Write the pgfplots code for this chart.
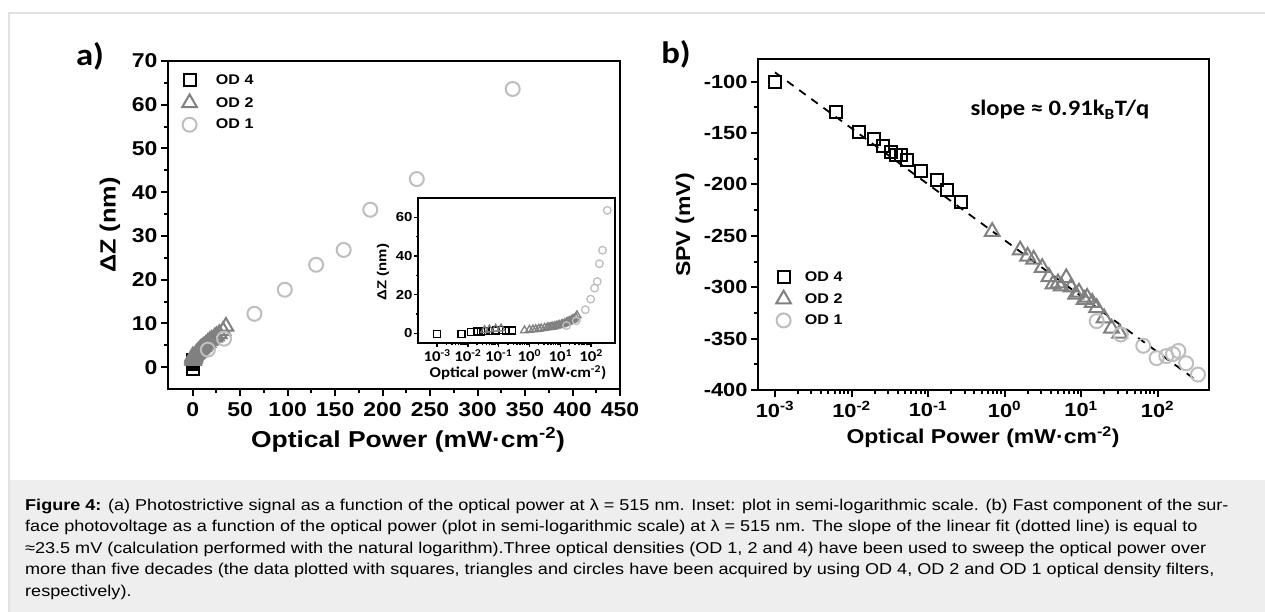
\documentclass[border=0pt]{standalone}
\usepackage{pgfplots}
\pgfplotsset{compat=1.18}
\usepackage{pgfplotstable}
\usepackage{fontspec}
\setmainfont{Liberation Sans}[FakeStretch=1.15]
\newfontfamily\carlito{Carlito}[FakeStretch=1.12]
\definecolor{odtwo}{HTML}{808080}
\definecolor{odone}{HTML}{BEBEBE}
\definecolor{capbg}{HTML}{EEEEEE}
\definecolor{framec}{HTML}{E2E2E2}

% Panel a data
\pgfplotstableread{
x y
0.001 -0.5
0.0062 -0.4
0.0127 0.8
0.0197 1.0
0.026 1.0
0.0325 1.2
0.0376 1.2
0.045 1.3
0.053 1.2
0.08 1.4
0.13 1.6
0.176 1.5
0.268 1.4
}\aSq
\pgfplotstableread{
x y
0.035 1.6
0.05 2.0
0.08 2.3
0.12 2.5
0.69 1.5
1.0 1.8
1.3 2.0
1.6 2.1
2.0 2.3
2.4 2.5
3.1 2.8
3.8 3.0
4.3 3.1
5.0 3.3
5.5 3.4
6.4 3.6
7.4 3.9
8.5 4.1
9.4 4.3
11 4.6
12 4.8
14 5.2
16 5.6
18 6.0
20 6.3
23 6.8
25 7.1
28 7.6
32 8.3
35 9.3
}\aTri
\pgfplotstableread{
x y
16 4.0
33 6.5
65 12.2
97 17.7
130 23.4
159 26.8
187 36.0
236 43.0
337 63.6
}\aCir
% Panel b data
\pgfplotstableread{
x y
0.001 -100.7
0.0062 -129.5
0.0127 -149.3
0.0197 -156.3
0.026 -162.8
0.0325 -168.6
0.0376 -171
0.045 -171
0.053 -175.9
0.08 -187.3
0.13 -195.5
0.176 -205
0.268 -217
}\bSq
\pgfplotstableread{
x y
0.69 -246
1.6 -264
2.0 -270
2.4 -273
3.1 -281
3.8 -290
4.3 -297
5.0 -296
5.5 -299
6.4 -291
7.4 -300
8.5 -307
9.4 -305
11 -312
12 -310
14 -315
16 -320
20 -330
25 -340
32 -345
}\bTri
\pgfplotstableread{
x y
16 -333
33 -346
65 -357
97 -369
130 -367
159 -365
187 -362
236 -374
337 -385
}\bCir

\pgfplotsset{
  mylegimg/.style={legend image code/.code={\draw[mark repeat=2,mark phase=2,##1] plot coordinates {(0pt,0pt) (6pt,0pt) (12pt,0pt)};}},
}

\begin{document}
\begin{tikzpicture}
\useasboundingbox (0pt,0pt) rectangle (1265pt,-612pt);
\fill[white] (0pt,0pt) rectangle (1265pt,-612pt);
\fill[capbg] (9pt,-480pt) rectangle (1265pt,-612pt);
\draw[framec, line width=1.2pt] (9pt,-612pt) -- (9pt,-13pt) -- (1265pt,-13pt);

% ---------------- Panel a ----------------
\begin{axis}[
  at={(168pt,-61pt)}, anchor=north west, scale only axis,
  width=452pt, height=328pt,
  xmin=-26, xmax=450, ymin=-5, ymax=70,
  xtick={0,50,...,450}, ytick={0,10,...,70},
  minor x tick num=1, minor y tick num=1,
  tick align=outside, xtick pos=bottom, ytick pos=left,
  major tick length=7pt, minor tick length=4pt,
  every tick/.style={black, line width=2pt},
  axis line style={line width=2.6pt},
  ticklabel style={font=\fontsize{20}{20}\selectfont\bfseries},
  /pgf/number format/assume math mode=true,
  xticklabel style={yshift=-3pt},
  mylegimg,
  legend cell align=left,
  legend style={at={(0.031,0.965)}, anchor=north west, draw=none, fill=none,
    inner sep=0pt, row sep=6.5pt,
    font=\fontsize{14}{14}\selectfont\bfseries,
    /tikz/every odd column/.append style={column sep=17pt}},
]
\addplot[only marks, mark=square, mark size=6pt, line width=2pt, black] table {\aSq};
\addlegendentry{OD 4}
\addplot[only marks, mark=triangle, mark size=8.5pt, line width=2pt, odtwo] table {\aTri};
\addlegendentry{OD 2}
\addplot[only marks, mark=o, mark size=7pt, line width=2pt, odone] table {\aCir};
\addlegendentry{OD 1}
\end{axis}

% inset
\begin{axis}[
  at={(418pt,-198pt)}, anchor=north west, scale only axis,
  width=197pt, height=145pt,
  xmode=log, xmin=2.4e-4, xmax=600, ymin=-5, ymax=70,
  axis background/.style={fill=white},
  xtick={1e-3,1e-2,1e-1,1,1e1,1e2},
  xticklabels={10\textsuperscript{-3},10\textsuperscript{-2},10\textsuperscript{-1},10\textsuperscript{0},10\textsuperscript{1},10\textsuperscript{2}},
  ytick={0,20,40,60}, minor y tick num=1,
  tick align=outside, xtick pos=bottom, ytick pos=left,
  major tick length=4pt, minor tick length=2.5pt,
  every tick/.style={black, line width=1.5pt},
  axis line style={line width=2.4pt},
  xticklabel style={font=\carlito\fontsize{15}{15}\selectfont\bfseries, yshift=1pt},
  yticklabel style={font=\fontsize{13}{13}\selectfont\bfseries, xshift=2pt},
  /pgf/number format/assume math mode=true,
]
\addplot[only marks, mark=square, mark size=3.5pt, line width=1.3pt, black] table {\aSq};
\addplot[only marks, mark=triangle, mark size=4.5pt, line width=1.3pt, odtwo] table {\aTri};
\addplot[only marks, mark=o, mark size=3.8pt, line width=1.3pt, odone] table {\aCir};
\end{axis}

% ---------------- Panel b ----------------
\begin{axis}[
  at={(758pt,-59pt)}, anchor=north west, scale only axis,
  width=451pt, height=331pt,
  xmode=log, xmin=6e-4, xmax=470, ymin=-400, ymax=-78,
  xtick={1e-3,1e-2,1e-1,1,1e1,1e2},
  xticklabels={10\textsuperscript{-3},10\textsuperscript{-2},10\textsuperscript{-1},10\textsuperscript{0},10\textsuperscript{1},10\textsuperscript{2}},
  ytick={-400,-350,...,-100},
  yticklabels={-400,-350,-300,-250,-200,-150,-100},
  minor y tick num=1,
  tick align=outside, xtick pos=bottom, ytick pos=left,
  major tick length=7pt, minor tick length=4pt,
  every tick/.style={black, line width=2pt},
  axis line style={line width=2.6pt},
  ticklabel style={font=\fontsize{19}{19}\selectfont\bfseries},
  xticklabel style={yshift=-1pt},
  mylegimg,
  legend cell align=left,
  legend style={at={(0.04,0.365)}, anchor=north west, draw=none, fill=none,
    inner sep=0pt, row sep=6pt,
    font=\fontsize{14}{14}\selectfont\bfseries,
    /tikz/every odd column/.append style={column sep=12pt}},
]
\addplot[black, dash pattern=on 8pt off 7pt, line width=1.8pt, forget plot] coordinates {(0.001,-91) (340,-392)};
\addplot[only marks, mark=square, mark size=6pt, line width=2pt, black] table {\bSq};
\addlegendentry{OD 4}
\addplot[only marks, mark=triangle, mark size=8.5pt, line width=2pt, odtwo] table {\bTri};
\addlegendentry{OD 2}
\addplot[only marks, mark=o, mark size=7pt, line width=2pt, odone] table {\bCir};
\addlegendentry{OD 1}
\end{axis}

% labels
\node[font=\carlito\fontsize{31}{31}\selectfont\bfseries] at (90pt,-56pt) {a)};
\node[font=\carlito\fontsize{31}{31}\selectfont\bfseries] at (676pt,-54pt) {b)};
\node[rotate=90, font=\fontsize{22}{22}\selectfont\bfseries] at (110pt,-225pt) {ΔZ (nm)};
\node[font=\fontsize{23}{23}\selectfont\bfseries] at (408pt,-440pt) {Optical Power (mW·cm\textsuperscript{-2})};
\node[rotate=90, font=\fontsize{13}{13}\selectfont\bfseries] at (383pt,-272pt) {ΔZ (nm)};
\node[font=\carlito\fontsize{15}{15}\selectfont\bfseries] at (518pt,-373pt) {Optical power (mW·cm\textsuperscript{-2})};
\node[rotate=90, font=\fontsize{20}{20}\selectfont\bfseries] at (685pt,-225pt) {SPV (mV)};
\node[font=\fontsize{20}{20}\selectfont\bfseries] at (983pt,-437pt) {Optical Power (mW·cm\textsuperscript{-2})};
\node[anchor=west, font=\carlito\fontsize{22}{22}\selectfont\bfseries] at (967pt,-110pt) {slope ≈ 0.91k\textsubscript{B}T/q};

% caption
\begin{scope}[every node/.style={anchor=base west, inner sep=0pt, font=\fontsize{15.7}{15.7}\selectfont}]
\node at (25pt,-510pt) {\textbf{Figure 4:} (a) Photostrictive signal as a function of the optical power at λ = 515 nm. Inset: plot in semi-logarithmic scale. (b) Fast component of the sur-};
\node at (25pt,-531.5pt) {face photovoltage as a function of the optical power (plot in semi-logarithmic scale) at λ = 515 nm. The slope of the linear fit (dotted line) is equal to};
\node at (25pt,-553pt) {≈23.5 mV (calculation performed with the natural logarithm).Three optical densities (OD 1, 2 and 4) have been used to sweep the optical power over};
\node at (25pt,-574.5pt) {more than five decades (the data plotted with squares, triangles and circles have been acquired by using OD 4, OD 2 and OD 1 optical density filters,};
\node at (25pt,-596pt) {respectively).};
\end{scope}
\end{tikzpicture}
\end{document}
